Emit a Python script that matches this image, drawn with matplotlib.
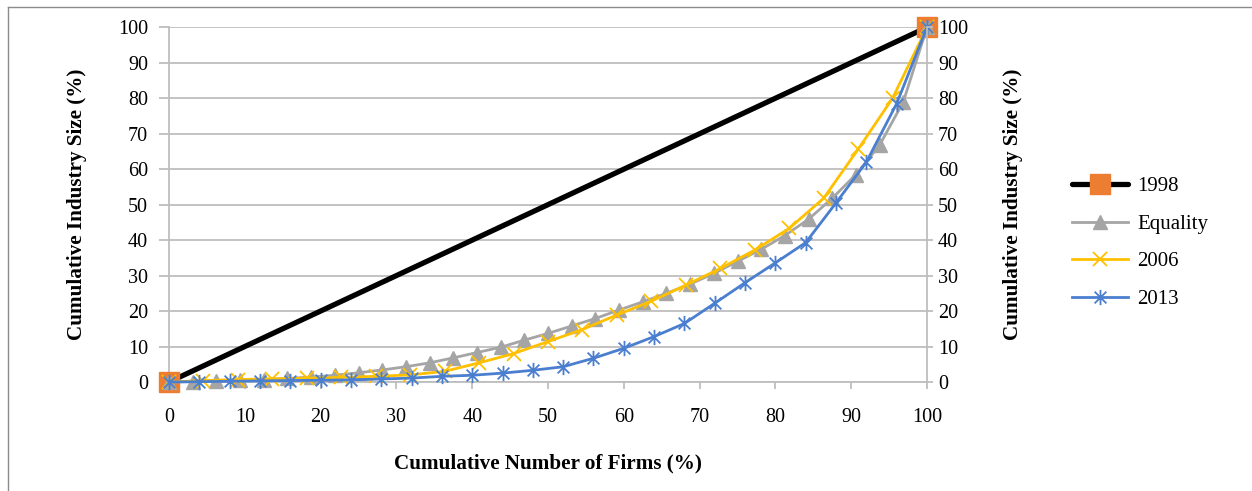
import numpy as np
import matplotlib
matplotlib.use("Agg")
from matplotlib import pyplot as plt
from matplotlib.path import Path
from matplotlib.lines import Line2D

plt.rcParams["font.family"] = ["Liberation Serif", "DejaVu Serif"]

# Cumulative shares (%) for each series
line_1998_x = [0, 100]
line_1998_y = [0, 100]

equality_x = list(np.arange(33) * 3.125)
equality_y = [0, 0.1, 0.25, 0.45, 0.7, 1.0, 1.4, 1.9, 2.6, 3.4, 4.3, 5.4, 6.8,
              8.3, 9.8, 11.8, 13.7, 15.8, 17.9, 20.3, 22.6, 25.0, 27.6, 30.6,
              34.0, 37.4, 41.3, 45.9, 51.8, 58.5, 66.8, 79.0, 100]

firms_2006_x = list(np.arange(23) * 100 / 22)
firms_2006_y = [0, 0.4, 0.7, 0.9, 1.1, 1.3, 1.6, 2.0, 3.0, 5.4, 8.0, 11.4, 14.8,
                18.9, 22.8, 27.3, 32.0, 37.2, 43.3, 51.8, 65.6, 80.0, 100]

firms_2013_x = list(np.arange(26) * 4)
firms_2013_y = [0, 0.1, 0.2, 0.3, 0.4, 0.5, 0.6, 0.85, 1.1, 1.6, 1.9, 2.5, 3.3,
                4.3, 6.7, 9.5, 12.8, 16.5, 22.2, 28.0, 33.6, 39.3, 50.5, 62.0,
                78.5, 100]

ticks = list(range(0, 101, 10))

# Excel-style asterisk: an X with a vertical stroke
star_path = Path(
    [(-1, -1), (1, 1), (-1, 1), (1, -1), (0, -1.3), (0, 1.3)],
    [Path.MOVETO, Path.LINETO, Path.MOVETO, Path.LINETO, Path.MOVETO, Path.LINETO],
)

grid_color = "#BEBEBE"
fig = plt.figure(figsize=(12.52, 4.91), dpi=100)
ax = fig.add_axes([169 / 1252, 1 - 382 / 491, (927 - 169) / 1252, (382 - 27.3) / 491])

ax.plot(line_1998_x, line_1998_y, color="black", lw=3.8, marker="s", ms=15,
        mfc="#ED7D31", mec="#ED7D31", label="1998", solid_capstyle="round",
        clip_on=False, zorder=3)
ax.plot(equality_x, equality_y, color="#A5A5A5", lw=2.0, marker="^", ms=10,
        mfc="#A5A5A5", mec="#A5A5A5", label="Equality", clip_on=False, zorder=4)
ax.plot(firms_2006_x, firms_2006_y, color="#FFC000", lw=2.0, marker="x", ms=10,
        mew=1.3, label="2006", clip_on=False, zorder=5)
ax.plot(firms_2013_x, firms_2013_y, color="#4A7ECF", lw=2.0, marker=star_path, ms=11,
        mew=1.3, label="2013", clip_on=False, zorder=6)

ax.set_xlim(0, 100)
ax.set_ylim(0, 100)
ax.set_xticks(ticks)
ax.set_yticks(ticks)
ax.yaxis.grid(True, color=grid_color, lw=1.3)
ax.set_axisbelow(True)
for side in ["top", "right"]:
    ax.spines[side].set_visible(False)
for side in ["left", "bottom"]:
    ax.spines[side].set_color(grid_color)
    ax.spines[side].set_linewidth(1.3)
ax.tick_params(axis="y", length=7, width=1.3, color=grid_color, pad=8, labelsize=14.5)
ax.tick_params(axis="x", length=5, width=1.3, color=grid_color, pad=14, labelsize=14.5)
ax.set_xlabel("Cumulative Number of Firms (%)", fontsize=15.2, fontweight="bold", labelpad=19)
ax.set_ylabel("Cumulative Industry Size (%)", fontsize=15.2, fontweight="bold", labelpad=22)

ax2 = ax.twinx()
ax2.set_ylim(0, 100)
ax2.set_yticks(ticks)
for side in ["top", "left", "bottom"]:
    ax2.spines[side].set_visible(False)
ax2.spines["right"].set_color(grid_color)
ax2.spines["right"].set_linewidth(1.3)
ax2.tick_params(axis="y", length=4, width=1.3, color=grid_color, pad=4, labelsize=14.5)
ax2.set_ylabel("Cumulative Industry Size (%)", fontsize=15.2, fontweight="bold",
               rotation=90, labelpad=25)

handles, labels = ax.get_legend_handles_labels()
fig.legend(handles, labels, loc="upper left", bbox_to_anchor=(1053 / 1252, 1 - 158 / 491),
           frameon=False, fontsize=15, handlelength=2.7, handletextpad=0.45,
           labelspacing=0.86)

# chart area border
fig.add_artist(Line2D([8 / 1252, 8 / 1252], [0, 1 - 7 / 491], transform=fig.transFigure,
                      color="#8C8C8C", lw=1))
fig.add_artist(Line2D([8 / 1252, 1], [1 - 7 / 491, 1 - 7 / 491], transform=fig.transFigure,
                      color="#8C8C8C", lw=1))

fig.savefig("out.png", dpi=100)
